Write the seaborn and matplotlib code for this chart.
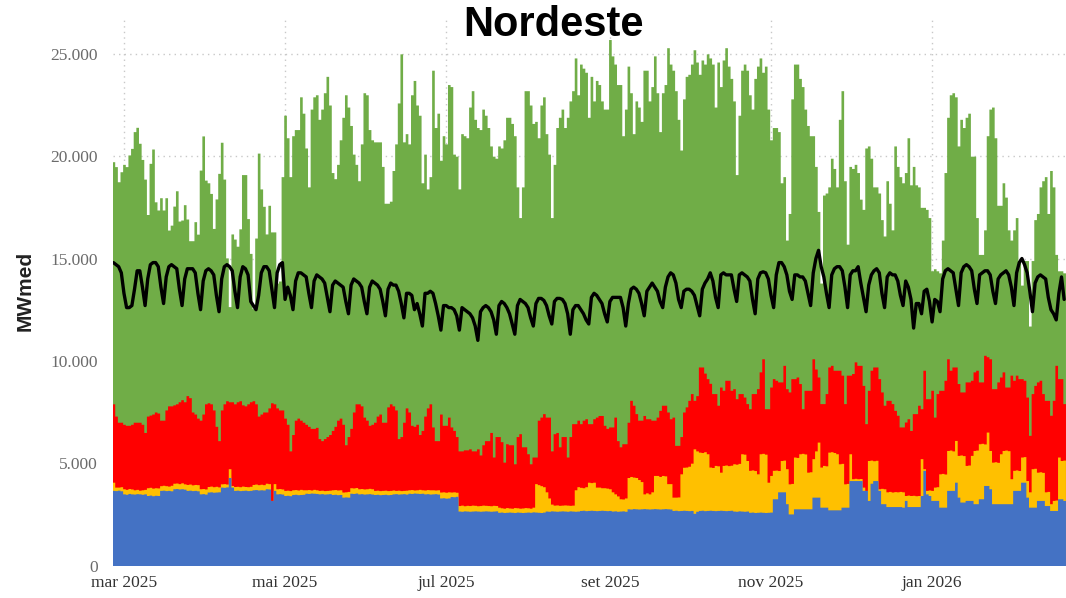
import numpy as np
import pandas as pd
import matplotlib
matplotlib.use("Agg")
import matplotlib.pyplot as plt
import matplotlib.dates as mdates
import seaborn as sns

# %% dados (MWmed), um valor por dia a partir de 25/02/2025
datas = pd.date_range("2025-02-25", periods=361, freq="D")

# topo acumulado de cada camada da pilha
acum_eolica = [
    19730, 19490, 18750, 19240, 19600, 19490, 20060, 20380, 21200, 21410,
    20630, 19840, 18880, 17150, 19650, 20350, 17770, 17370, 17970, 17370,
    17970, 16390, 16630, 17560, 18310, 16830, 16880, 17630, 16930, 15870,
    15870, 16800, 16190, 19320, 20990, 18830, 18700, 18180, 16470, 17910,
    19160, 20680, 18880, 15030, 12650, 16200, 15950, 15600, 16450, 19100,
    19100, 16950, 15250, 12550, 16000, 20150, 18400, 17550, 16200,
    17600, 16300, 16300, 13800, 13900, 19000, 22000, 20900, 19000, 21000,
    21300, 21300, 22900, 22100, 20400, 18500, 22300, 22900, 23000, 21800,
    22300, 23100, 23900, 22500, 19200, 18900, 19600, 20800, 21900, 23000, 22400,
    21500, 20100, 19600, 18800, 20600, 23100, 23000, 21300, 20800, 20700,
    20700, 20700, 19500, 17700, 17700, 17800, 19300, 20600, 22600, 25000,
    20700, 21100, 20600, 23000, 23700, 22500, 22000, 18700, 20100, 18400, 19000,
    24200, 21400, 22100, 19800, 21000, 20600, 23500, 23400, 20100, 20000,
    18400, 21100, 21000, 20900, 22400, 23200, 21800, 21400, 21300, 22300,
    22000, 21400, 20500, 20000, 19900, 20500, 20400, 20800, 21900, 21900,
    21600, 21000, 18500, 17000, 18500, 23200, 23200, 22500, 21600, 21700,
    20900, 22500, 22900, 21100, 20100, 17000, 19600, 21400, 21900, 22300,
    21400, 21900, 22700, 23200, 24800, 23000, 24500, 24300, 24100, 21900,
    23900, 22700, 23700, 23500, 22700, 22300, 22300, 25700, 24900, 24500,
    23500, 23500, 21000, 22300, 24400, 23100, 21100, 22700, 22400, 21700,
    24200, 24200, 22700, 23400, 24900, 23100, 21200, 23100, 23500, 25300,
    24500, 24200, 23200, 21800, 20300, 22800, 23900, 24000, 24500, 25200,
    24600, 24000, 24700, 24500, 25000, 24800, 24500, 22400, 24600, 23400,
    24700, 25300, 24400, 23800, 22700, 19100, 22000, 24200, 24500, 24200,
    23000, 22300, 23800, 24400, 24800, 24100, 24400, 22300, 20800, 21400,
    21400, 21200, 18700, 19000, 15900, 17200, 22800, 24500, 24500, 23800,
    23400, 22300, 21500, 21000, 21000, 19500,
    17300, 13800, 18100, 18200, 18500,
    19900, 19400, 18500, 21800, 23200, 18800, 15700, 19500, 19400, 19600,
    19200, 17900, 17400, 20400, 20500, 19900, 18500, 18500, 18200, 16900,
    16100, 18800, 17700, 16400, 20500, 19500, 19000, 18700, 19200, 20900,
    18600, 19500, 18600, 18500, 17500, 17500, 17400, 17000, 14400, 14500,
    14400, 14300, 15900, 19200, 21900, 23000, 23100, 22900, 20500, 21800,
    21400, 21900, 22100, 20000, 20000, 17000, 15200, 15200, 16400, 21000,
    22300, 22400, 20900, 17600, 17600, 18700, 18000, 16400, 15900, 16400,
    17000, 14900, 13700, 14900, 14900, 11700, 14900, 16900, 17200, 18500,
    18800, 19000, 17200, 19300, 18500, 15200, 14400, 14400, 14300,
]

acum_solar = [
    7900, 7300, 7000, 7000, 6900, 6850, 6850, 6900, 7000, 7000,
    7000, 6900, 6500, 7300, 7350, 7400, 7500, 7450, 7100, 7100,
    7600, 7800, 7800, 7850, 7900, 8000, 8100, 8000, 8300, 8200,
    7500, 7400, 7200, 7100, 7400, 7900, 7950, 7900, 7600, 6800,
    6100, 7600, 7900, 8050, 8000, 8000, 7900, 8000, 8050, 7850,
    7800, 7900, 8000, 8050, 7900, 7300, 7400, 7500, 7500, 7700,
    7950, 7900, 7700, 7600, 7600, 7200, 6900, 5600, 6400, 7100,
    7200, 7100, 7000, 6900, 6800, 6700, 6700, 6750, 6200, 6100,
    6200, 6300, 6400, 6600, 6800, 7100, 7200, 6900, 5900, 6300,
    6700, 7500, 7900, 7900, 7800, 7250, 7100, 6850, 6900, 7000, 7300,
    7400, 7000, 7000, 7750, 7900, 7800, 7600, 6200, 6300, 7000,
    7700, 7500, 6850, 6800, 6900, 6400, 6600, 7300, 7700, 7900,
    6770, 6100, 6100, 7400, 6850, 6850, 7250, 6770, 6600, 6300,
    5600, 5600, 5650, 5650, 5700, 5600, 5600, 5700, 5400, 5900,
    6100, 6100, 6500, 5300, 6300, 6300, 6050, 5050, 5950, 5900,
    5900, 4970, 6300, 6440, 5800, 5800, 5460, 4970, 5300, 5300,
    7100, 7250, 7420, 7250, 7250, 5600, 6440, 6500, 5800, 6300,
    6300, 5300, 6300, 6930, 6930, 7100, 6930, 7100, 7170, 6930,
    6930, 7170, 7250, 7330, 7330, 6850, 6700, 6770, 6770, 7250,
    6100, 5800, 5950, 5950, 7000, 8070, 7830, 7420, 7100, 7100,
    7330, 7170, 7170, 7100, 7100, 7250, 7580, 7830, 7830, 7500,
    7170, 7250, 5870, 5870, 6300, 7500, 7750, 8070, 8400, 8070,
    8300, 9700, 9700, 9400, 9130, 8900, 8400, 8400, 7830, 8720,
    8560, 9050, 9050, 8560, 8640, 8150, 8400, 8400, 8230, 7910,
    7660, 8400, 8400, 8640, 9460, 10100, 7660, 7660, 8720, 9130,
    9050, 8970, 8970, 9780, 8640, 8480, 9130, 9130, 9210, 8890,
    7660, 8560, 8560, 8560, 10100, 9600,
    9210, 7910, 7910, 8400, 9700,
    9780, 9540, 9540, 9540, 9300, 7910, 9300, 9300, 9380, 9950,
    9780, 9780, 8800, 6930, 8560, 9540, 9700, 9700, 9130, 8480,
    7830, 8070, 8070, 7910, 7580, 7340, 6770, 6770, 7010, 7170,
    6600, 7420, 7420, 7830, 7660, 9540, 8150, 8150, 8560, 7250,
    8400, 8560, 8560, 9050, 10100, 9540, 9700, 9700, 8890, 8480,
    8480, 8970, 8970, 9050, 9460, 9540, 8970, 8970, 10270, 10200,
    10100, 8640, 8640, 8970, 9210, 9460, 8720, 8720, 9300, 9050,
    9300, 9130, 9130, 9050, 8230, 6360, 8400, 8800, 8970, 9050,
    8400, 8070, 8070, 7340, 8070, 9780, 9130, 9130, 7910,
]

acum_termica = [
    4070, 3830, 3830, 3850, 3750, 3720, 3760, 3740, 3700, 3720,
    3680, 3700, 3720, 3800, 3820, 3780, 3800, 3790, 3900, 3920,
    3900, 3880, 3920, 4020, 4030, 4000, 4040, 3990, 3960, 3980,
    3940, 3960, 3950, 3750, 3760, 3740, 3860, 3880, 3850, 3870,
    3840, 3990, 4000, 3980, 4730, 3910, 3860, 3870, 3850, 3880,
    3860, 3850, 3870, 3960, 3980, 3950, 3970, 3950, 4020, 4000,
    3180, 4000, 3750, 3760, 3740, 3670, 3680, 3660, 3700, 3710,
    3690, 3720, 3700, 3700, 3710, 3690, 3720, 3700, 3670, 3680,
    3660, 3670, 3680, 3700, 3710, 3690, 3700, 3590, 3600, 3620,
    3800, 3790, 3810, 3750, 3760, 3740, 3750, 3770, 3750, 3670, 3680,
    3660, 3670, 3680, 3660, 3670, 3690, 3670, 3680, 3660, 3670,
    3680, 3700, 3710, 3690, 3700, 3720, 3700, 3690, 3710, 3700,
    3700, 3690, 3700, 3590, 3600, 3580, 3600, 3590, 3600, 3580,
    2930, 2950, 2920, 2940, 2930, 2950, 2940, 2920, 2930, 2950,
    2940, 2930, 2920, 2940, 2930, 2850, 2820, 2800, 2830, 2810,
    2800, 2830, 2820, 2800, 2810, 2830, 2820, 2800, 2850, 4000,
    3950, 3900, 3850, 3600, 3300, 3000, 2950, 2960, 2940, 2950,
    2960, 2950, 2940, 2950, 3700, 3850, 3820, 3800, 3850, 4070,
    4050, 4070, 3830, 3830, 3800, 3800, 3780, 3750, 3600, 3500,
    3400, 3260, 3250, 3300, 4300, 4350, 4320, 4300, 4200, 4100,
    3500, 3550, 3500, 3600, 4400, 4400, 4350, 4400, 4380, 4000,
    4000, 3340, 3340, 3350, 4480, 4800, 4810, 4850, 5000, 5700,
    5600, 5540, 5520, 5560, 5460, 4810, 4790, 4890, 4870, 4560,
    4890, 4910, 4880, 4900, 4970, 4950, 4990, 5460, 5440, 5130,
    4650, 4670, 4640, 4480, 5460, 5480, 5440, 4070, 4400, 4650,
    4660, 4640, 5130, 5150, 4730, 3990, 4010, 5300, 5280, 5460,
    5480, 5450, 4560, 4580, 5220, 5600,
    6030, 4810, 4890, 4870, 5540,
    5560, 5520, 5460, 4970, 4990, 3990, 4010, 5460, 4240, 4260,
    4240, 4250, 3830, 3670, 5130, 5150, 5120, 5140, 3750, 3770,
    3750, 3600, 3620, 3590, 3610, 3600, 3620, 3600, 3420, 3440,
    3420, 3430, 3410, 3420, 5220, 4730, 3670, 3690, 3670, 3830,
    3850, 4480, 4500, 4470, 5620, 5640, 5600, 6110, 5380, 5400,
    5370, 4890, 4910, 5380, 5620, 5640, 5950, 5970, 5940, 6520,
    5620, 5050, 5070, 5040, 5460, 5620, 5640, 5610, 4240, 4650,
    4670, 4640, 5300, 5320, 4150, 3600, 4730, 4750, 4560, 4580,
    4550, 3600, 3620, 3020, 3180, 3200, 5300, 5130, 5150,
]

acum_hidro = [
    3670, 3660, 3680, 3650, 3500, 3480, 3520, 3500, 3490, 3510,
    3500, 3480, 3500, 3420, 3440, 3410, 3430, 3420, 3670, 3680,
    3660, 3670, 3650, 3750, 3760, 3740, 3750, 3730, 3670, 3680,
    3660, 3670, 3650, 3500, 3510, 3490, 3590, 3600, 3580, 3590,
    3600, 3830, 3820, 3840, 4300, 3830, 3670, 3680, 3660, 3670,
    3680, 3660, 3670, 3700, 3710, 3690, 3700, 3690, 3750, 3740,
    3180, 3670, 3500, 3510, 3490, 3420, 3430, 3410, 3470, 3480,
    3460, 3470, 3480, 3530, 3520, 3540, 3530, 3520, 3500, 3510,
    3490, 3500, 3510, 3470, 3480, 3460, 3470, 3340, 3350, 3340,
    3530, 3520, 3540, 3500, 3510, 3490, 3500, 3510, 3490, 3470, 3480,
    3460, 3470, 3480, 3460, 3470, 3500, 3510, 3490, 3500, 3510,
    3490, 3530, 3520, 3540, 3530, 3520, 3530, 3500, 3510, 3490,
    3500, 3510, 3490, 3300, 3310, 3290, 3300, 3370, 3360, 3380,
    2660, 2650, 2670, 2660, 2650, 2660, 2670, 2660, 2650, 2660,
    2670, 2660, 2650, 2660, 2670, 2600, 2610, 2590, 2600, 2610,
    2600, 2590, 2610, 2600, 2590, 2600, 2610, 2600, 2620, 2610,
    2600, 2590, 2610, 2660, 2650, 2670, 2660, 2650, 2660, 2670,
    2660, 2650, 2670, 2660, 2650, 2660, 2690, 2700, 2680, 2690,
    2700, 2690, 2680, 2690, 2700, 2690, 2680, 2690, 2660, 2670,
    2650, 2660, 2670, 2650, 2770, 2760, 2780, 2770, 2760, 2770,
    2780, 2770, 2760, 2770, 2780, 2770, 2760, 2770, 2780, 2770,
    2760, 2690, 2700, 2680, 2690, 2700, 2690, 2680, 2690, 2550,
    2650, 2690, 2700, 2680, 2690, 2700, 2690, 2680, 2690, 2700,
    2690, 2680, 2690, 2700, 2660, 2650, 2670, 2660, 2650, 2660,
    2600, 2610, 2590, 2600, 2610, 2600, 2590, 2600, 2610, 3260,
    3260, 3600, 3600, 3600, 3020, 2520, 2520, 2770, 2770, 2770,
    2770, 2770, 2770, 2770, 3340, 3340,
    3340, 2850, 2850, 2850, 2720,
    2720, 2720, 2720, 2720, 2850, 2850, 2850, 4150, 4150, 4150,
    4150, 4150, 3670, 3670, 3180, 4020, 4150, 4150, 3670, 3020,
    3020, 2880, 2880, 2880, 2880, 2880, 2880, 2850, 3180, 2880,
    2880, 2880, 2880, 2880, 3420, 4650, 3500, 3420, 3180, 3180,
    3180, 2850, 2850, 2850, 3670, 3670, 3670, 4070, 3340, 3100,
    3100, 3180, 3180, 3180, 3020, 3020, 3260, 3260, 3910, 3910,
    3750, 3020, 3020, 3020, 3020, 3020, 3020, 3020, 3020, 3670,
    3670, 3670, 4070, 4070, 3340, 2850, 2850, 2850, 3180, 3180,
    3180, 2930, 2930, 2690, 2690, 2690, 3260, 3260, 3180,
]

carga = [
    14800, 14700, 14600, 14300, 13300, 12600,
    12600, 12700, 13500, 14400, 14400, 13600, 12700,
    14000, 14700, 14800, 14800, 14600, 13600, 12800,
    14100, 14600, 14700, 14600, 14500, 13500, 12700,
    14000, 14500, 14500, 14500, 14300, 13300, 12500,
    13900, 14400, 14500, 14400, 14200, 13200, 12400,
    14000, 14600, 14700, 14600, 14400, 13400, 12600,
    14100, 14600, 14500, 14200, 12900, 12700, 12500,
    13200, 14300, 14600, 14600, 14400, 13500, 12600,
    14300, 14700, 14800, 13000, 13600, 13200, 12500,
    13900, 14300, 14300, 14200, 14100, 13300, 12600,
    13900, 14200, 14100, 14000, 13800, 13100, 12400,
    13700, 13900, 13800, 13700, 13600, 12900, 12300,
    13700, 14000, 13900, 13800, 13600, 12900, 12300,
    13600, 13900, 13800, 13700, 13500, 12900, 12200,
    13500, 13800, 13700, 13700, 13400, 12800, 12100,
    13300, 13300, 13200, 12500, 12800, 12300, 11700,
    13300, 13300, 13400, 13300, 12800, 12200, 11500,
    12700, 12700, 12600, 12600, 12500, 12200, 11500,
    12600, 12500, 12400, 12300, 12100, 11700, 11000,
    12400, 12600, 12700, 12600, 12400, 12000, 11300,
    12700, 12900, 12800, 12600, 12300, 11800, 11300,
    12700, 13000, 12900, 12800, 12600, 12100, 11700,
    12800, 13050, 13050, 12950, 12700, 12200, 11800,
    12900, 13050, 13050, 13000, 12800, 12300, 11300,
    12500, 12700, 12700, 12500, 12300, 12000, 11800,
    13100, 13300, 13200, 13000, 12800, 12300, 11900,
    12900, 13100, 13100, 13100, 13100, 12600, 11700,
    12800, 13500, 13600, 13500, 13300, 12800, 12200,
    13400, 13600, 13800, 13600, 13400, 12900, 12600,
    13600, 14100, 14300, 14200, 13800, 13000, 12600,
    13400, 13500, 13500, 13400, 13200, 12700, 12200,
    13500, 13800, 14000, 14300, 13900, 13100, 12600,
    14200, 14300, 14200, 14200, 14200, 13500, 12900,
    14200, 14300, 14200, 14100, 13900, 13000, 12300,
    14000, 14300, 14350, 14300, 14000, 13200, 12600,
    14200, 14800, 14800, 14600, 14200, 13400, 13000,
    14200, 14200, 14100, 14100, 13900, 13300, 12700,
    14300, 15000, 15400, 14600, 14100, 13300, 12600,
    14200, 14500, 14600, 14600, 14400, 13600, 12600,
    14200, 14400, 14400, 14600, 13800, 13100, 12400,
    13700, 14200, 14400, 14500, 14300, 13300, 12600,
    14100, 14300, 14200, 14200, 13900, 13200, 12700,
    13900, 13600, 13000, 11600, 12800, 12800, 12300,
    13400, 13500, 12900, 11900, 13000, 12900, 12400,
    14000, 14400, 14500, 14400, 14300, 13500, 12700,
    14300, 14600, 14700, 14600, 14400, 13500, 12800,
    14200, 14300, 14400, 14400, 14200, 13400, 12800,
    14000, 14200, 14300, 14400, 14200, 13600, 12700,
    14300, 14800, 15000, 14700, 14300, 13400, 12400,
    13800, 14100, 14200, 14100, 14000, 13100, 12500,
    12300, 12000, 13300, 14100, 13000,
]

meses = ["2025-03-01", "2025-05-01", "2025-07-01", "2025-09-01", "2025-11-01", "2026-01-01"]
rotulos_x = ["mar 2025", "mai 2025", "jul 2025", "set 2025", "nov 2025", "jan 2026"]
ticks_y = [0, 5000, 10000, 15000, 20000, 25000]
rotulos_y = ["0", "5.000", "10.000", "15.000", "20.000", "25.000"]

df = pd.DataFrame({
    "dia": mdates.date2num(datas),
    "eolica": acum_eolica,
    "solar": acum_solar,
    "termica": acum_termica,
    "hidro": acum_hidro,
    "carga": carga,
})

# %% grafico
sns.set_theme(style="white")
plt.rcParams["font.family"] = ["Liberation Serif", "DejaVu Serif"]

fig = plt.figure(figsize=(10.66, 5.98), dpi=100)
ax = fig.add_axes([113 / 1066, 32.5 / 598, 953 / 1066, 548.5 / 598])

# cada camada e desenhada do zero ate o seu topo acumulado, de tras pra frente
camadas = [("eolica", "#70AD47"), ("solar", "#FF0000"),
           ("termica", "#FFC000"), ("hidro", "#4472C4")]
for col, cor in camadas:
    sns.histplot(data=df, x="dia", weights=col, discrete=True,
                 element="step", fill=True, color=cor, alpha=1,
                 linewidth=0, ax=ax)

sns.lineplot(data=df, x="dia", y="carga", color="black", linewidth=2.4, ax=ax)

inicio = mdates.date2num(pd.Timestamp("2025-02-25"))
ax.set_xlim(inicio - 0.15, inicio + 360.7)
ax.set_ylim(0, 26800)

ax.set_xticks(mdates.date2num(pd.to_datetime(meses)))
ax.set_xticklabels(rotulos_x)
ax.set_yticks(ticks_y)
ax.set_yticklabels(rotulos_y)
ax.tick_params(axis="x", length=0, pad=7, labelsize=12.5, labelcolor="#333333")
ax.tick_params(axis="y", length=0, pad=11, labelsize=12.5, labelcolor="#6b6b6b")

ax.grid(True, linestyle=(0, (1, 3)), color="#c8c8c8", linewidth=1)
ax.set_axisbelow(True)
sns.despine(ax=ax, left=True, bottom=True)
ax.set_xlabel("")
ax.set_ylabel("")

fig.text(25 / 1066, 1 - 291 / 598, "MWmed", rotation=90, ha="center", va="center",
         fontsize=15, fontweight="bold", color="#222222", family=["Liberation Sans", "DejaVu Sans"])
fig.text(553 / 1066, 1 - 25 / 598, "Nordeste", ha="center", va="center",
         fontsize=30, fontweight="bold", color="black", family=["Liberation Sans", "DejaVu Sans"])

fig.savefig("out.png", dpi=100)
